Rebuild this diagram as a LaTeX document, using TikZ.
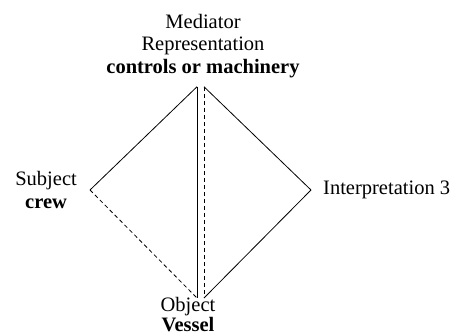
\documentclass[tikz,border=0pt]{standalone}
\usepackage{fontspec}
\setmainfont{Liberation Serif}
\usetikzlibrary{calc}
\begin{document}
\begin{tikzpicture}[x=1pt,y=-1pt,
  lbl/.style={font=\fontsize{20.5}{22.5}\selectfont, align=center, inner sep=0pt},
  edge/.style={line width=0.8pt},
  dashededge/.style={edge, dash pattern=on 4pt off 3pt}]
\useasboundingbox (0,0) rectangle (456,335);

% the four corners of the semiotic diamond
\node[lbl, anchor=north] (med) at (203,13.7)
  {Mediator\\Representation\\\textbf{controls or machinery}};
\node[lbl, anchor=east, inner xsep=13pt] (subj) at (90,190)
  {Subject\\\textbf{crew}};
\node[lbl, anchor=west, inner xsep=12pt] (interp) at (311,190)
  {Interpretation 3};
\node[lbl, anchor=north, font=\fontsize{20.5}{20.5}\selectfont] (obj) at (188,297)
  {Object\\\textbf{Vessel}};

% double spine from mediator to object, sides of the diamond
\draw[edge] ($(med.south)+(-6,9)$) -- (subj.east);
\draw[edge] ($(med.south)+(-6,9)$) -- ($(obj.north)+(9,1)$);
\draw[dashededge] ($(med.south)+(1,9)$) -- ($(obj.north)+(16,1)$);
\draw[edge] ($(med.south)+(1,9)$) -- (interp.west);
\draw[edge] (interp.west) -- ($(obj.north)+(16,1)$);
\draw[dashededge] (subj.east) -- ($(obj.north)+(9,1)$);
\end{tikzpicture}
\end{document}
